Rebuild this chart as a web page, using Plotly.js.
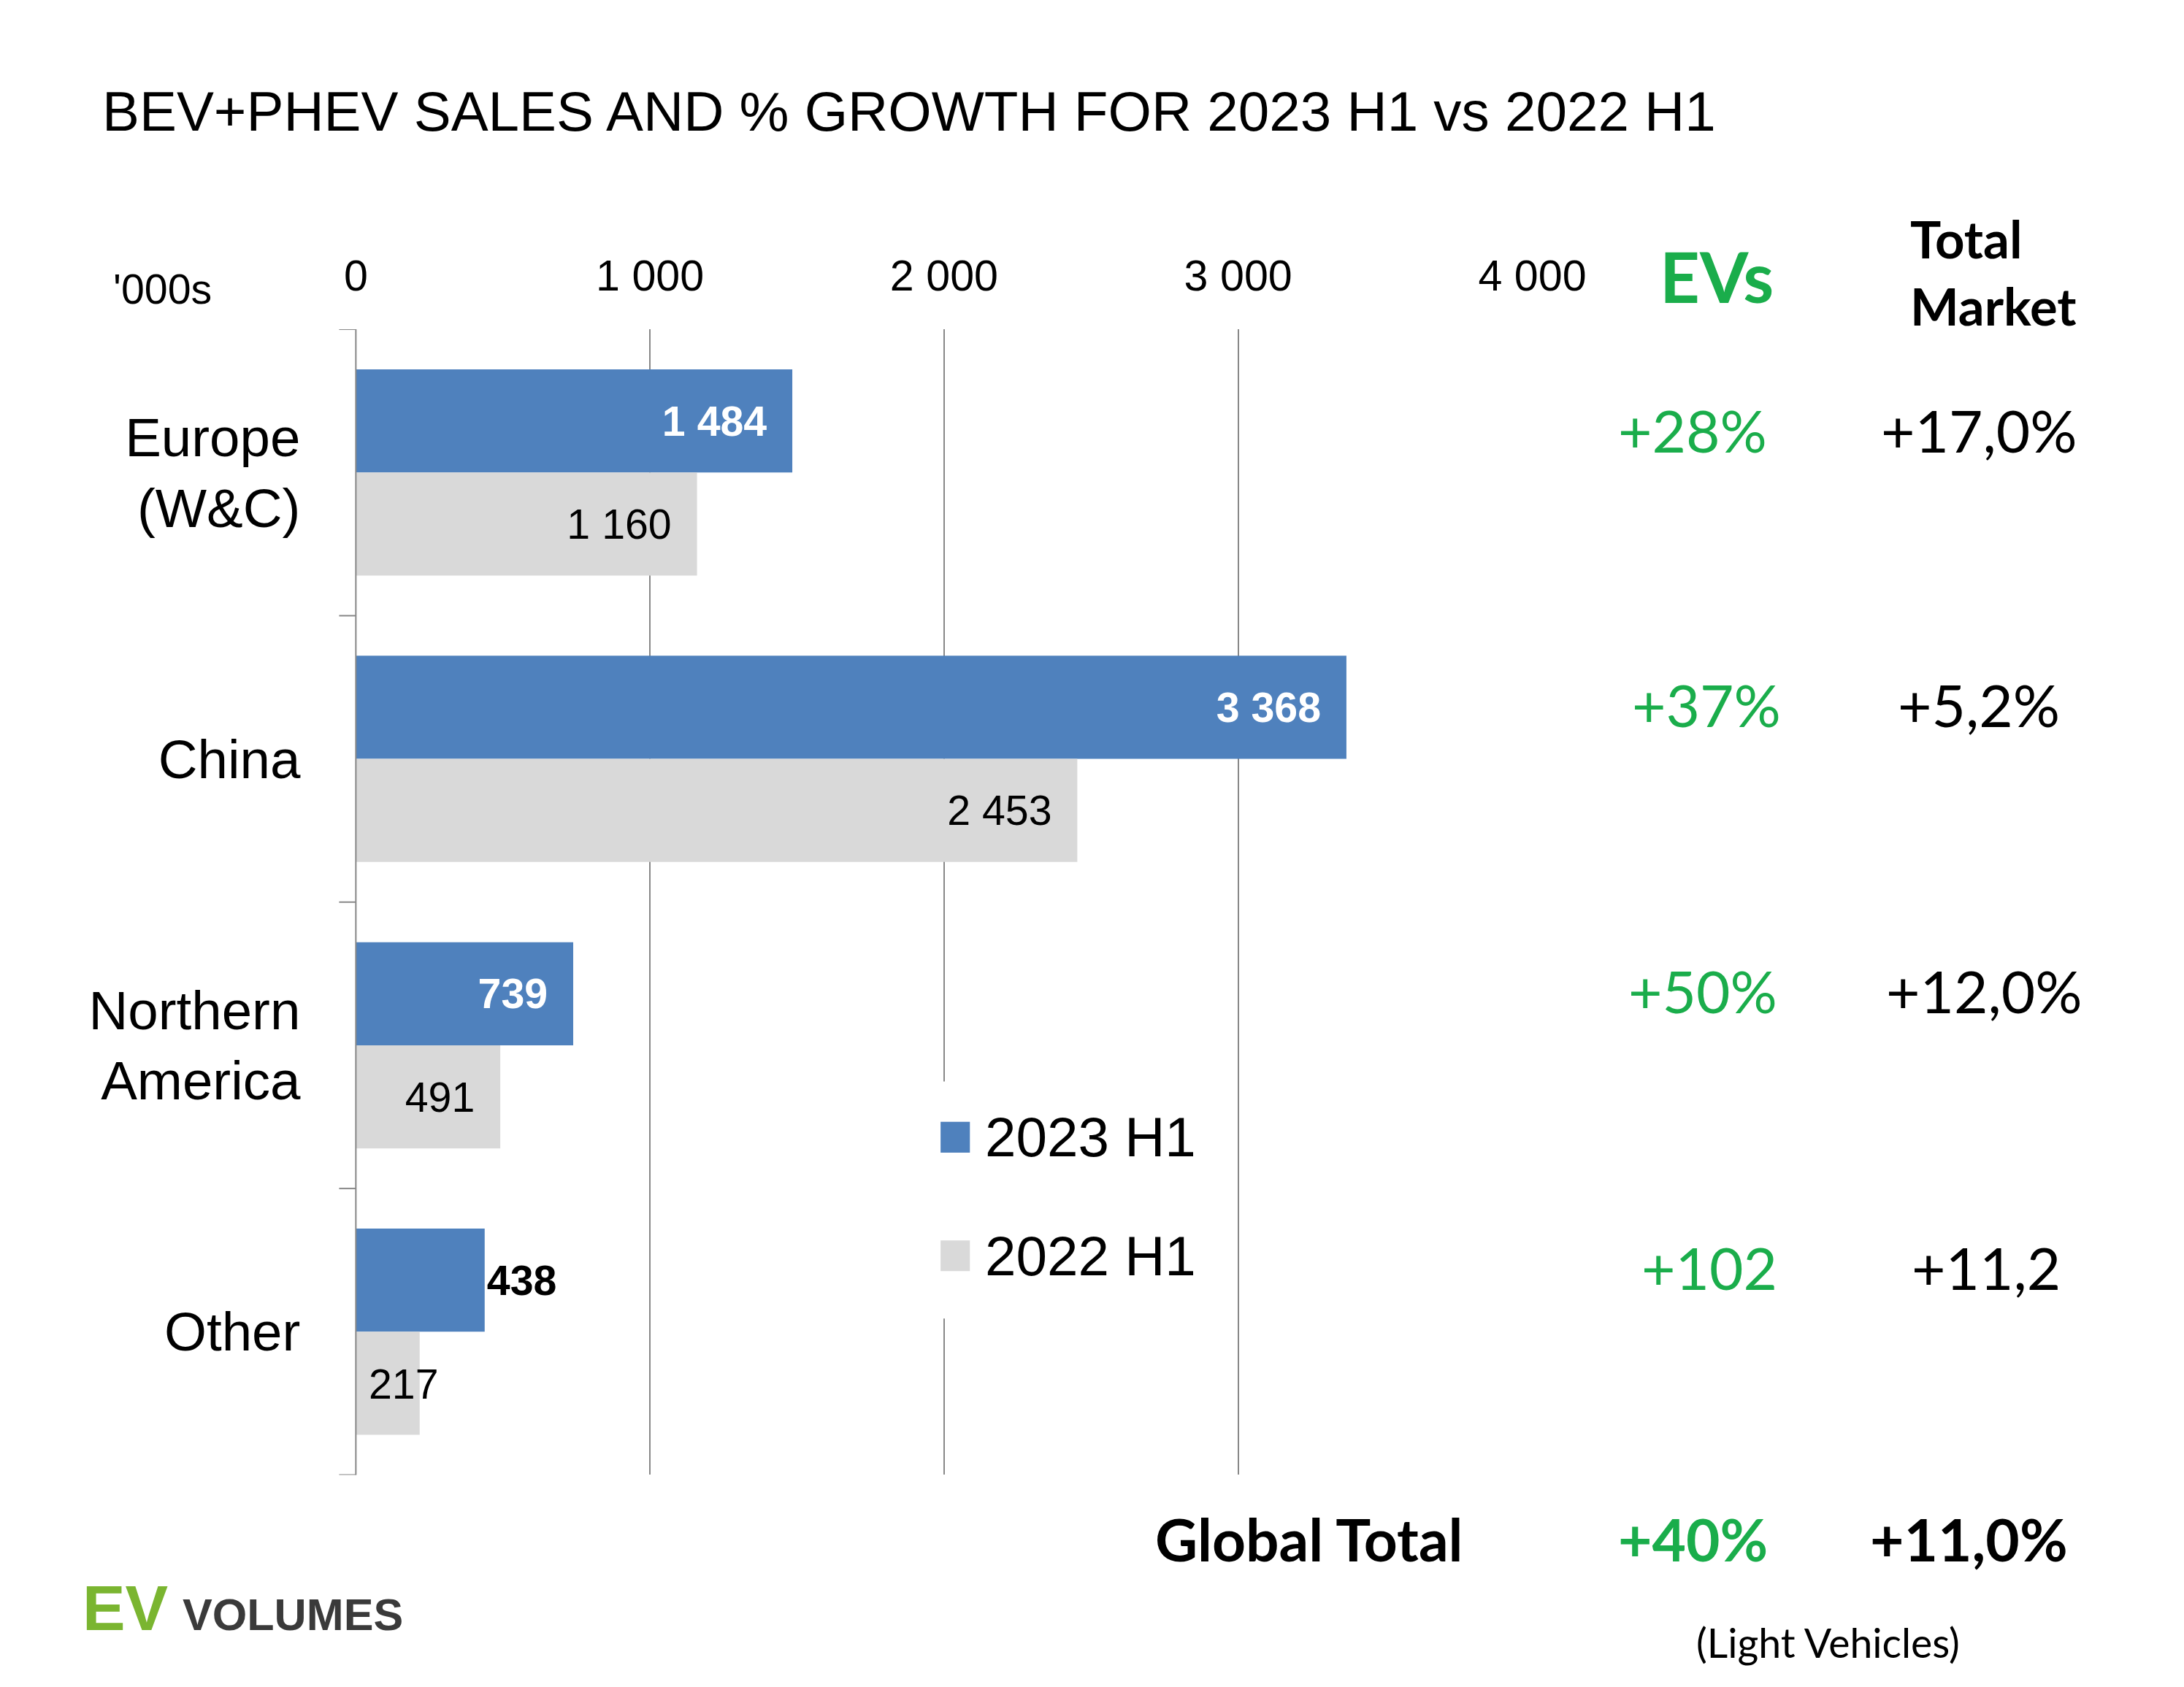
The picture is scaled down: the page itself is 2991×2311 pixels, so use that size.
<!DOCTYPE html>
<html><head><meta charset="utf-8">
<script src="https://cdn.plot.ly/plotly-3.0.1.min.js"></script>
<style>body{margin:0}#c{width:2991px;height:2311px}</style>
</head><body><div id="c"></div>
<script>
const regions = ["Europe<br>(W&C)", "China", "Northern<br>America", "Other"];
const sales2023 = [1484, 3368, 739, 438];
const sales2022 = [1160, 2453, 491, 217];
const labels2023 = ["1 484", "3 368", "739", "438"];
const labels2022 = ["1 160", "2 453", "491", "217"];
const seriesNames = ["2023 H1", "2022 H1"];
const evGrowth = ["+28%", "+37%", "+50%", "+102"];
const marketGrowth = ["+17,0%", "+5,2%", "+12,0%", "+11,2"];

const S = 1.91;
const W = 1565, H = 1209;
const px = x => x / W, py = y => 1 - y / H;
const green = "#1aad4b";
const blue = "#4f81bd", grey = "#d9d9d9";
const pad = s => s + "\u00a0\u00a0";

const traces = [
  {
    type: "bar", orientation: "h", name: seriesNames[0],
    y: [0, 1, 2, 3], x: sales2023, marker: {color: blue},
    text: labels2023.map((t, i) => i < 3 ? pad(t) : t),
    textposition: ["inside", "inside", "inside", "outside"], textangle: 0,
    insidetextanchor: "end", constraintext: "none",
    insidetextfont: {family: "Liberation Sans", size: 30 * S, color: "white", weight: "bold"},
    outsidetextfont: {family: "Liberation Sans", size: 30 * S, color: "black", weight: "bold"},
    cliponaxis: false
  },
  {
    type: "bar", orientation: "h", name: seriesNames[1],
    y: [0, 1, 2, 3], x: sales2022, marker: {color: grey},
    text: labels2022.map((t, i) => i < 3 ? pad(t) : ""), textposition: "inside", insidetextanchor: "end",
    textangle: 0, constraintext: "none",
    insidetextfont: {family: "Liberation Sans", size: 30 * S, color: "black"}
  }
];

const ann = [];
const A = (x, y, text, size, color, opts) => ann.push(Object.assign({
  xref: "paper", yref: "paper", x: px(x), y: py(y), text, showarrow: false,
  font: {family: "Lato", size: size * S, color}, xanchor: "center", yanchor: "middle"
}, opts || {}));

// small bar label that overflows its bar
ann.push({xref: "x", yref: "y", x: sales2022[3], y: 3, yshift: -72, xshift: 28, xanchor: "right",
  text: labels2022[3], showarrow: false, font: {family: "Liberation Sans", size: 30 * S, color: "black"}});

A(72, 80, "BEV+PHEV SALES AND % GROWTH FOR 2023 H1 vs 2022 H1", 40, "black",
  {xanchor: "left", font: {family: "Liberation Sans", size: 40 * S, color: "black"}});
A(80, 207, "'000s", 30, "black", {xanchor: "left", font: {family: "Liberation Sans", size: 30 * S, color: "black"}});
A(1230, 198, "<b>EVs</b>", 50, green);
A(1368, 195, "<b>Total<br>Market</b>", 37, "black", {xanchor: "left", align: "left"});
const rowsY = [308, 505, 710, 908];
const evX = [1213, 1223, 1220, 1225], mkX = [1418, 1418, 1422, 1423];
for (let i = 0; i < 4; i++) {
  A(evX[i], rowsY[i], evGrowth[i], 42, green);
  A(mkX[i], rowsY[i], marketGrowth[i], 42, "black");
}
A(938, 1103, "<b>Global Total</b>", 42, "black");
A(1213, 1103, "<b>+40%</b>", 42, green);
A(1411, 1103, "<b>+11,0%</b>", 42, "black");
A(1310, 1177, "(Light Vehicles)", 29, "black");
A(58, 1152, "<b>EV</b>", 46, "#7ab530", {xanchor: "left", font: {family: "Liberation Sans", size: 46 * S, color: "#7ab530"}});
A(130, 1157, "<b>VOLUMES</b>", 32, "#3a3a3a", {xanchor: "left", font: {family: "Liberation Sans", size: 32 * S, color: "#3a3a3a"}});

const shapes = [];
[-0.5, 0.5, 1.5, 2.5, 3.5].forEach(v => shapes.push({
  type: "line", xref: "paper", yref: "y", x0: px(243), x1: px(255), y0: v, y1: v,
  line: {color: "#888", width: 2}
}));
shapes.push({type: "line", xref: "paper", yref: "paper", x0: px(255), x1: px(255), y0: py(236), y1: py(1057), line: {color: "#888", width: 2}});

// legend box
shapes.push({type: "rect", xref: "paper", yref: "paper", x0: px(665), x1: px(875), y0: py(775), y1: py(945),
  fillcolor: "white", line: {width: 0}, layer: "above"});
[[815, blue], [900, grey]].forEach(([y, c], i) => {
  shapes.push({type: "rect", xref: "paper", yref: "paper", x0: px(674), x1: px(695), y0: py(y + 11), y1: py(y - 11),
    fillcolor: c, line: {width: 0}, layer: "above"});
  A(705, y, seriesNames[i], 40, "black", {xanchor: "left", font: {family: "Liberation Sans", size: 40 * S, color: "black"}});
});

Plotly.newPlot("c", traces, {
  width: 2991, height: 2311, margin: {l: 0, r: 0, t: 0, b: 0},
  paper_bgcolor: "white", plot_bgcolor: "white",
  barmode: "group", bargap: 0.28, bargroupgap: 0, showlegend: false,
  xaxis: {domain: [px(255), px(1098)], range: [0, 4000], side: "top",
    tickvals: [0, 1000, 2000, 3000, 4000], ticktext: ["0", "1 000", "2 000", "3 000", "4 000"],
    showgrid: true, gridcolor: "#888", gridwidth: 2, zeroline: false,
    tickfont: {family: "Liberation Sans", size: 31 * S, color: "black"}, ticks: "", ticklabelstandoff: 40},
  yaxis: {domain: [py(1057), py(236)], range: [3.5, -0.5], tickvals: [0, 1, 2, 3], ticktext: regions,
    showgrid: false, zeroline: false, ticks: "", ticklabelstandoff: 75,
    tickfont: {family: "Liberation Sans", size: 39 * S, color: "black"}},
  annotations: ann, shapes: shapes
}, {staticPlot: true});
</script></body></html>
